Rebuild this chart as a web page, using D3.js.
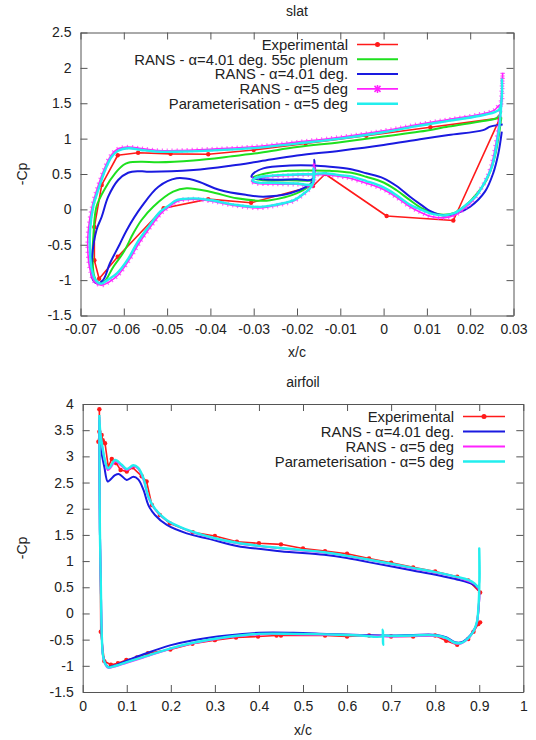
<!DOCTYPE html>
<html>
<head>
<meta charset="utf-8">
<script src="https://cdn.jsdelivr.net/npm/d3@7"></script>
<style>
body { margin: 0; background: #fff; }
svg text { font-family: "Liberation Sans", Arial, sans-serif; fill: #222; }
</style>
</head>
<body>
<div id="chart"></div>
<script>
// ---- slat panel data (x/c, -Cp) ----
var slatXTicks = [-0.07, -0.06, -0.05, -0.04, -0.03, -0.02, -0.01, 0, 0.01, 0.02, 0.03];
var slatYTicks = [-1.5, -1, -0.5, 0, 0.5, 1, 1.5, 2, 2.5];

var slatExp = [[0.0268,1.29],[0.0108,1.16],[-0.004,1.04],[-0.018,0.93],[-0.030,0.84],[-0.0405,0.78],
  [-0.0492,0.785],[-0.0567,0.80],[-0.0614,0.765],[-0.0651,0.345],[-0.0668,-0.25],[-0.0668,-0.72],
  [-0.0657,-0.98],[-0.0614,-0.67],[-0.0508,0.015],[-0.0405,0.145],[-0.0306,0.093],[-0.0163,0.33],
  [-0.0135,0.50],[0.0007,-0.094],[0.0161,-0.157],[0.0268,1.28]];

var slatPlenum = [[0.0272,1.38],[0.0261,1.29],[0.023,1.25],[0.015,1.17],[0.0084,1.1],[0.0,1.03],
  [-0.01,0.95],[-0.02,0.88],[-0.0285,0.8],[-0.035,0.75],[-0.0439,0.69],[-0.052,0.665],[-0.0559,0.674],
  [-0.059,0.66],[-0.0601,0.627],[-0.062,0.51],[-0.0643,0.3],[-0.0663,0.04],[-0.067,-0.35],[-0.0672,-0.7],
  [-0.0668,-0.95],[-0.0658,-1.04],[-0.0645,-1.02],[-0.0624,-0.81],[-0.06,-0.6],[-0.0578,-0.338],
  [-0.0559,-0.15],[-0.0532,0.038],[-0.0486,0.25],[-0.0455,0.298],[-0.0401,0.25],[-0.0339,0.156],
  [-0.0285,0.123],[-0.0262,0.13],[-0.0201,0.227],[-0.017,0.344],[-0.0163,0.42],[-0.0165,0.41],
  [-0.022,0.41],[-0.0278,0.41],[-0.0302,0.45],[-0.0278,0.5],[-0.022,0.545],[-0.0162,0.55],
  [-0.0124,0.545],[-0.0078,0.52],[-0.004,0.46],[0.0,0.38],[0.003,0.27],[0.0061,0.13],[0.009,0.01],
  [0.0115,-0.05],[0.0138,-0.075],[0.0165,-0.045],[0.019,0.06],[0.0215,0.22],[0.0238,0.42],
  [0.0255,0.7],[0.0265,1.0],[0.0272,1.3]];

var slatRans401 = [[0.0275,1.2],[0.0265,1.193],[0.0246,1.169],[0.023,1.12],[0.015,1.05],[0.0084,0.99],
  [0.0,0.91],[-0.01,0.83],[-0.02,0.76],[-0.0285,0.68],[-0.035,0.62],[-0.0439,0.557],[-0.0547,0.533],
  [-0.0567,0.54],[-0.059,0.518],[-0.0613,0.415],[-0.0636,0.179],[-0.0651,-0.104],[-0.0663,-0.29],
  [-0.0674,-0.715],[-0.0674,-0.95],[-0.0663,-1.045],[-0.0648,-1.0],[-0.0632,-0.762],[-0.061,-0.5],
  [-0.0593,-0.29],[-0.0559,0.038],[-0.052,0.32],[-0.0478,0.439],[-0.0439,0.415],[-0.0378,0.274],
  [-0.0316,0.203],[-0.0278,0.179],[-0.0216,0.227],[-0.0178,0.32],[-0.0164,0.39],[-0.016,0.7],
  [-0.0164,0.43],[-0.0201,0.425],[-0.0278,0.425],[-0.0305,0.46],[-0.0302,0.5],[-0.0278,0.58],
  [-0.0216,0.62],[-0.0162,0.62],[-0.0124,0.603],[-0.0078,0.57],[-0.004,0.51],[0.0,0.439],[0.003,0.33],
  [0.0061,0.179],[0.009,0.05],[0.0107,-0.02],[0.0138,-0.085],[0.0169,-0.056],[0.02,0.038],
  [0.0234,0.25],[0.0253,0.51],[0.0265,0.79],[0.0273,1.1]];

var slatRans5 = [[0.0275,1.93],[0.0274,1.7],[0.0272,1.5],[0.0265,1.46],[0.0255,1.4],[0.022,1.34],
  [0.015,1.27],[0.008,1.2],[0.0,1.11],[-0.01,1.02],[-0.02,0.95],[-0.03,0.885],[-0.04,0.85],[-0.048,0.83],
  [-0.052,0.83],[-0.056,0.86],[-0.059,0.88],[-0.0615,0.85],[-0.063,0.76],[-0.0645,0.57],[-0.0662,0.28],
  [-0.0673,0.04],[-0.0682,-0.3],[-0.0683,-0.6],[-0.0678,-0.85],[-0.0668,-1.02],[-0.0652,-1.07],
  [-0.0635,-1.03],[-0.0612,-0.92],[-0.0586,-0.7],[-0.0566,-0.49],[-0.054,-0.26],[-0.0513,-0.05],
  [-0.0492,0.05],[-0.0475,0.12],[-0.0439,0.145],[-0.0401,0.12],[-0.0339,0.05],[-0.0285,0.02],
  [-0.0254,0.05],[-0.0207,0.12],[-0.0186,0.21],[-0.0171,0.29],[-0.0163,0.36],[-0.0161,0.65],
  [-0.0164,0.35],[-0.0201,0.355],[-0.0255,0.36],[-0.0295,0.37],[-0.0305,0.4],[-0.03,0.435],
  [-0.027,0.46],[-0.0216,0.48],[-0.0164,0.49],[-0.0135,0.49],[-0.0096,0.46],[-0.0078,0.44],
  [-0.004,0.37],[0.0,0.28],[0.003,0.17],[0.006,0.04],[0.0085,-0.04],[0.011,-0.1],[0.0138,-0.12],
  [0.0165,-0.08],[0.019,0.03],[0.0213,0.18],[0.0233,0.38],[0.0248,0.6],[0.0258,0.88],[0.0266,1.2],
  [0.0272,1.6],[0.0275,1.93]];

var slatParam = [[0.0273,1.85],[0.0273,1.6],[0.0268,1.42],[0.0255,1.37],[0.022,1.32],[0.015,1.25],
  [0.008,1.18],[0.0,1.09],[-0.01,1.0],[-0.02,0.93],[-0.03,0.865],[-0.04,0.83],[-0.048,0.815],
  [-0.052,0.815],[-0.056,0.84],[-0.059,0.863],[-0.0613,0.829],[-0.0628,0.745],[-0.0643,0.557],
  [-0.0659,0.274],[-0.067,0.055],[-0.0678,-0.3],[-0.0678,-0.6],[-0.0674,-0.85],[-0.0665,-1.0],
  [-0.0652,-1.05],[-0.0638,-1.0],[-0.0616,-0.904],[-0.059,-0.7],[-0.057,-0.479],[-0.0543,-0.245],
  [-0.0516,-0.033],[-0.0495,0.06],[-0.0478,0.132],[-0.0439,0.156],[-0.0401,0.132],[-0.0339,0.062],
  [-0.0285,0.035],[-0.0254,0.06],[-0.0207,0.13],[-0.0185,0.22],[-0.017,0.3],[-0.0163,0.37],
  [-0.0162,0.58],[-0.0164,0.36],[-0.0201,0.365],[-0.0255,0.375],[-0.0293,0.382],[-0.0303,0.41],
  [-0.0297,0.44],[-0.027,0.47],[-0.0216,0.49],[-0.0164,0.5],[-0.0135,0.51],[-0.0096,0.48],
  [-0.0078,0.47],[-0.004,0.4],[0.0,0.31],[0.003,0.2],[0.006,0.07],[0.0085,0.0],[0.011,-0.06],
  [0.0138,-0.085],[0.0165,-0.05],[0.019,0.06],[0.0215,0.2],[0.0235,0.4],[0.025,0.6],[0.026,0.88],
  [0.0268,1.2],[0.0273,1.6]];

// ---- airfoil panel data ----
var afXTicks = [0, 0.1, 0.2, 0.3, 0.4, 0.5, 0.6, 0.7, 0.8, 0.9, 1];
var afYTicks = [-1.5, -1, -0.5, 0, 0.5, 1, 1.5, 2, 2.5, 3, 3.5, 4];

var afExp = [[0.902,0.40],[0.875,0.63],[0.85,0.70],[0.80,0.80],[0.75,0.88],[0.70,0.97],[0.65,1.05],
  [0.60,1.14],[0.55,1.19],[0.50,1.24],[0.45,1.32],[0.40,1.34],[0.35,1.37],[0.30,1.48],[0.25,1.55],
  [0.198,1.72],[0.175,1.88],[0.157,2.07],[0.145,2.52],[0.134,2.62],[0.113,2.79],[0.10,2.71],
  [0.086,2.74],[0.076,2.87],[0.066,2.95],[0.058,2.80],[0.0507,3.25],[0.0454,3.31],[0.043,3.41],
  [0.0356,3.28],[0.0378,3.47],[0.0378,3.9],[0.041,-0.35],[0.049,-0.91],[0.064,-0.98],[0.080,-0.95],
  [0.099,-0.89],[0.123,-0.84],[0.148,-0.76],[0.199,-0.69],[0.249,-0.58],[0.30,-0.51],[0.348,-0.46],
  [0.398,-0.44],[0.44,-0.42],[0.45,-0.42],[0.55,-0.42],[0.60,-0.44],[0.65,-0.42],[0.70,-0.44],
  [0.75,-0.44],[0.80,-0.42],[0.825,-0.52],[0.85,-0.60],[0.875,-0.49],[0.887,-0.35],[0.898,-0.2],
  [0.902,-0.17]];

var afRans401 = [[0.037,3.7],[0.0393,3.32],[0.043,3.06],[0.049,2.80],[0.0567,2.52],[0.062,2.55],
  [0.0734,2.64],[0.083,2.66],[0.10,2.55],[0.115,2.61],[0.126,2.56],[0.138,2.36],[0.149,2.07],
  [0.164,1.88],[0.191,1.69],[0.236,1.53],[0.289,1.42],[0.35,1.29],[0.448,1.19],[0.548,1.12],
  [0.6,1.06],[0.648,0.98],[0.749,0.82],[0.849,0.65],[0.887,0.55],[0.898,0.47],[0.9,0.35],
  [0.898,0.05],[0.894,-0.2],[0.887,-0.33],[0.875,-0.46],[0.86,-0.55],[0.845,-0.55],[0.826,-0.46],
  [0.803,-0.41],[0.75,-0.41],[0.70,-0.42],[0.63,-0.41],[0.554,-0.39],[0.478,-0.37],[0.40,-0.37],
  [0.327,-0.42],[0.251,-0.51],[0.198,-0.61],[0.138,-0.78],[0.10,-0.9],[0.07,-1.0],[0.058,-1.02],
  [0.051,-0.95],[0.046,-0.8],[0.043,-0.32],[0.041,0.64],[0.039,1.59],[0.037,3.7]];

var afRans5 = [[0.0378,3.75],[0.0405,3.4],[0.046,3.1],[0.052,2.86],[0.057,2.74],[0.063,2.78],
  [0.074,2.9],[0.088,2.82],[0.10,2.74],[0.115,2.81],[0.126,2.76],[0.138,2.55],[0.15,2.2],[0.165,1.98],
  [0.19,1.78],[0.24,1.58],[0.29,1.45],[0.35,1.34],[0.45,1.24],[0.55,1.16],[0.65,1.02],[0.75,0.86],
  [0.85,0.69],[0.89,0.56],[0.898,0.48],[0.9,0.4],[0.898,0.05],[0.894,-0.2],[0.887,-0.34],
  [0.875,-0.48],[0.86,-0.57],[0.845,-0.57],[0.826,-0.48],[0.803,-0.43],[0.7,-0.44],[0.6,-0.41],
  [0.5,-0.4],[0.4,-0.4],[0.327,-0.46],[0.251,-0.57],[0.198,-0.68],[0.138,-0.84],[0.10,-0.94],
  [0.07,-1.02],[0.058,-1.04],[0.051,-0.97],[0.046,-0.8],[0.043,-0.3],[0.041,0.6],[0.039,1.6],
  [0.0378,3.75]];

var afParam = [[0.0378,3.79],[0.040,3.45],[0.0454,3.15],[0.051,2.9],[0.057,2.77],[0.062,2.8],
  [0.0734,2.93],[0.0885,2.84],[0.10,2.76],[0.115,2.83],[0.126,2.78],[0.138,2.58],[0.149,2.23],
  [0.164,2.0],[0.191,1.78],[0.236,1.6],[0.289,1.46],[0.35,1.35],[0.40,1.29],[0.448,1.25],[0.5,1.21],
  [0.548,1.17],[0.6,1.1],[0.648,1.03],[0.70,0.95],[0.749,0.87],[0.80,0.79],[0.849,0.70],[0.875,0.64],
  [0.89,0.57],[0.898,0.5],[0.9,0.55],[0.9,1.24],[0.9,0.45],[0.898,0.1],[0.895,-0.15],[0.887,-0.34],
  [0.875,-0.47],[0.86,-0.56],[0.845,-0.56],[0.826,-0.47],[0.803,-0.42],[0.75,-0.42],[0.698,-0.43],
  [0.683,-0.43],[0.682,-0.6],[0.681,-0.31],[0.68,-0.43],[0.63,-0.42],[0.554,-0.40],[0.478,-0.39],
  [0.40,-0.39],[0.327,-0.45],[0.251,-0.56],[0.198,-0.67],[0.138,-0.83],[0.10,-0.93],[0.07,-1.01],
  [0.058,-1.03],[0.051,-0.96],[0.046,-0.8],[0.043,-0.32],[0.041,0.64],[0.039,1.59],[0.0378,3.79]];

var svg = d3.select("#chart").append("svg")
    .attr("width", 536)
    .attr("height", 740);

function drawPanel(p) {
    var x = d3.scaleLinear().domain(p.xDomain).range([p.left, p.right]);
    var y = d3.scaleLinear().domain(p.yDomain).range([p.bottom, p.top]);
    var g = svg.append("g");

    // frame + inward ticks on all four sides
    var fmt = d => String(d);
    g.append("g").attr("transform", `translate(0,${p.bottom})`)
        .call(d3.axisBottom(x).tickValues(p.xTicks).tickFormat(fmt).tickSizeInner(-7).tickSizeOuter(0).tickPadding(9));
    g.append("g").attr("transform", `translate(0,${p.top})`)
        .call(d3.axisTop(x).tickValues(p.xTicks).tickFormat("").tickSizeInner(-7).tickSizeOuter(0));
    g.append("g").attr("transform", `translate(${p.left},0)`)
        .call(d3.axisLeft(y).tickValues(p.yTicks).tickFormat(fmt).tickSizeInner(-7).tickSizeOuter(0).tickPadding(9));
    g.append("g").attr("transform", `translate(${p.right},0)`)
        .call(d3.axisRight(y).tickValues(p.yTicks).tickFormat("").tickSizeInner(-7).tickSizeOuter(0));
    g.selectAll(".domain, .tick line").attr("stroke", "#555");
    g.selectAll(".tick text").attr("font-size", 14).attr("fill", "#222")
        .attr("font-family", "Liberation Sans, Arial, sans-serif");

    // titles
    g.append("text").attr("x", (p.left + p.right) / 2).attr("y", p.titleY)
        .attr("text-anchor", "middle").attr("font-size", 14).text(p.title);
    g.append("text").attr("x", (p.left + p.right) / 2).attr("y", p.xlabelY)
        .attr("text-anchor", "middle").attr("font-size", 14).text("x/c");
    g.append("text").attr("transform", `translate(27,${(p.top + p.bottom) / 2}) rotate(-90)`)
        .attr("text-anchor", "middle").attr("font-size", 14).text("-Cp");

    var clipId = "clip" + p.title;
    svg.append("clipPath").attr("id", clipId).append("rect")
        .attr("x", p.left).attr("y", p.top)
        .attr("width", p.right - p.left).attr("height", p.bottom - p.top);
    var plot = g.append("g").attr("clip-path", `url(#${clipId})`);

    var smooth = d3.line().x(d => x(d[0])).y(d => y(d[1])).curve(d3.curveCatmullRom.alpha(0.5));
    var straight = d3.line().x(d => x(d[0])).y(d => y(d[1]));

    p.series.forEach(function (s, i) {
        var line = s.exp ? straight : smooth;
        plot.append("path").datum(s.data)
            .attr("fill", "none").attr("stroke", s.color)
            .attr("stroke-width", s.width).attr("stroke-linejoin", "round")
            .attr("d", line);
        if (s.exp) {
            plot.selectAll(null).data(s.data).enter().append("circle")
                .attr("cx", d => x(d[0])).attr("cy", d => y(d[1]))
                .attr("r", 2.2).attr("fill", s.color);
        }
        if (s.stars) {
            // dense point markers of the CFD series
            plot.append("path").datum(s.data)
                .attr("fill", "none").attr("stroke", s.color)
                .attr("stroke-width", 4.5).attr("stroke-dasharray", "1.2,3.8")
                .attr("opacity", 0.7).attr("d", line);
        }

        // legend entry
        var ly = p.legendY + i * p.legendStep;
        g.append("text").attr("x", p.legendTextX).attr("y", ly).attr("dy", "0.36em")
            .attr("text-anchor", "end").attr("font-size", 14.8).text(s.name);
        g.append("line").attr("x1", p.legendLine[0]).attr("x2", p.legendLine[1])
            .attr("y1", ly).attr("y2", ly)
            .attr("stroke", s.color).attr("stroke-width", s.width);
        var mx = (p.legendLine[0] + p.legendLine[1]) / 2;
        if (s.exp) {
            g.append("circle").attr("cx", mx).attr("cy", ly).attr("r", 2.5).attr("fill", s.color);
        }
        if (s.stars) {
            g.append("path").attr("d", `M${mx - 3},${ly - 3}L${mx + 3},${ly + 3}M${mx - 3},${ly + 3}L${mx + 3},${ly - 3}M${mx},${ly - 4}L${mx},${ly + 4}`)
                .attr("stroke", s.color).attr("stroke-width", 1.5);
        }
    });
}

drawPanel({
    title: "slat", titleY: 16, xlabelY: 357,
    left: 80.5, right: 513.5, top: 32.5, bottom: 315.5,
    xDomain: [-0.07, 0.03], yDomain: [-1.5, 2.5],
    xTicks: slatXTicks, yTicks: slatYTicks,
    legendY: 44.5, legendStep: 14.8, legendTextX: 348, legendLine: [357, 398],
    series: [
        { name: "Experimental", data: slatExp, color: "#ff1a1a", width: 1.6, exp: true },
        { name: "RANS - \u03b1=4.01 deg. 55c plenum", data: slatPlenum, color: "#1ee01e", width: 2 },
        { name: "RANS - \u03b1=4.01 deg.", data: slatRans401, color: "#1a1ae0", width: 2 },
        { name: "RANS - \u03b1=5 deg", data: slatRans5, color: "#ff22ff", width: 1.6, stars: true },
        { name: "Parameterisation - \u03b1=5 deg", data: slatParam, color: "#22eeee", width: 2.4 }
    ]
});

drawPanel({
    title: "airfoil", titleY: 387, xlabelY: 735,
    left: 82.7, right: 523.3, top: 404, bottom: 692,
    xDomain: [0, 1], yDomain: [-1.5, 4],
    xTicks: afXTicks, yTicks: afYTicks,
    legendY: 416.5, legendStep: 15, legendTextX: 454, legendLine: [463, 505],
    series: [
        { name: "Experimental", data: afExp, color: "#ff1a1a", width: 1.6, exp: true },
        { name: "RANS - \u03b1=4.01 deg.", data: afRans401, color: "#1a1ae0", width: 2 },
        { name: "RANS - \u03b1=5 deg", data: afRans5, color: "#ff22ff", width: 2 },
        { name: "Parameterisation - \u03b1=5 deg", data: afParam, color: "#22eeee", width: 2.4 }
    ]
});
</script>
</body>
</html>
